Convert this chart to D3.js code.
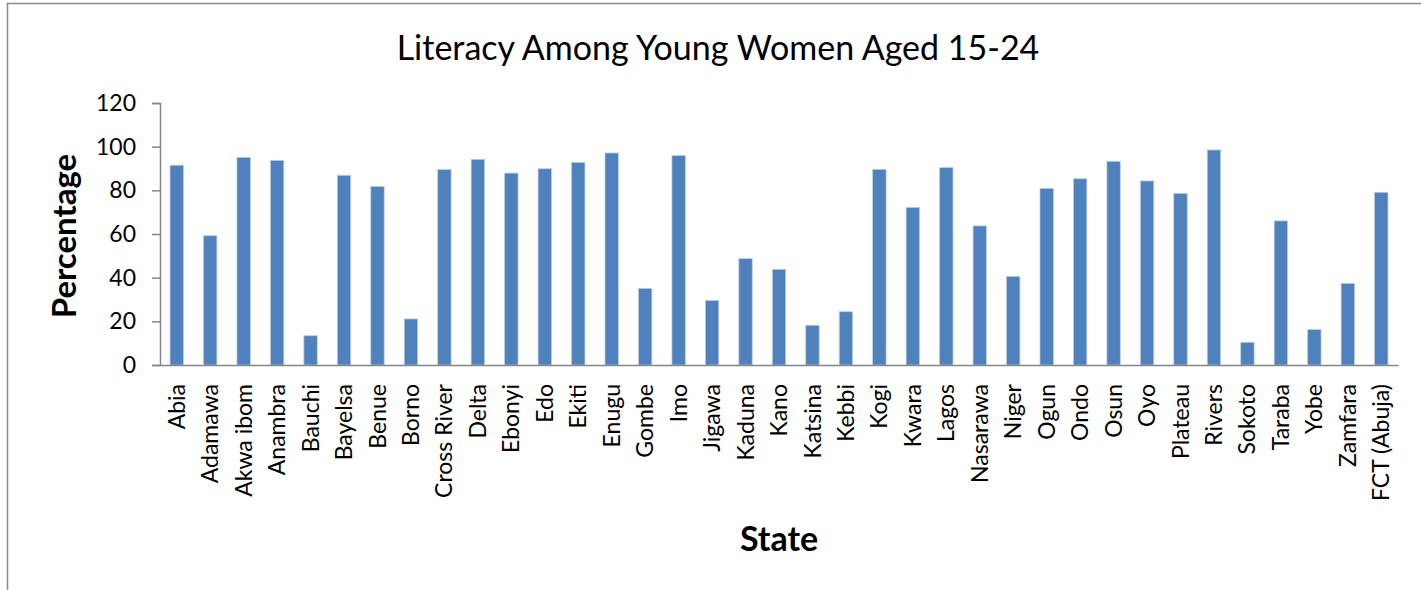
<!DOCTYPE html>
<html lang="en">
  <head>
    <meta charset="utf-8">
    <script src="https://d3js.org/d3.v7.min.js"></script>
    <style>
      body { margin: 0; background: #fff; }
      text { font-family: Lato, "Open Sans", sans-serif; fill: #000; }
    </style>
  </head>
  <body>
    <div id="chart">
      <svg width="1421" height="590"></svg>
    </div>
    <script type="text/javascript">
      // Data
      var states = ["Abia", "Adamawa", "Akwa ibom", "Anambra", "Bauchi", "Bayelsa",
        "Benue", "Borno", "Cross River", "Delta", "Ebonyi", "Edo", "Ekiti", "Enugu",
        "Gombe", "Imo", "Jigawa", "Kaduna", "Kano", "Katsina", "Kebbi", "Kogi",
        "Kwara", "Lagos", "Nasarawa", "Niger", "Ogun", "Ondo", "Osun", "Oyo",
        "Plateau", "Rivers", "Sokoto", "Taraba", "Yobe", "Zamfara", "FCT (Abuja)"];
      var literacy = [91.5, 59.2, 95.1, 93.7, 13.4, 86.9, 81.8, 21.1, 89.5, 94.2,
        87.9, 89.9, 92.8, 97.1, 35.1, 95.9, 29.6, 48.7, 43.8, 18.2, 24.4, 89.6,
        72.2, 90.4, 63.7, 40.6, 80.9, 85.3, 93.3, 84.3, 78.6, 98.5, 10.4, 66.0,
        16.2, 37.4, 79.1];
      var yTicks = [0, 20, 40, 60, 80, 100, 120];

      var svg = d3.select("svg");
      var margin = {top: 103, left: 160, right: 23, bottom: 225};
      var width = +svg.attr("width"), height = +svg.attr("height");
      var innerWidth = width - margin.left - margin.right;
      var innerHeight = height - margin.top - margin.bottom;

      // Chart frame (only top and left edges fall inside the picture)
      svg.append("path")
        .attr("d", `M7.5,${height} V3.5 H${width}`)
        .attr("fill", "none")
        .attr("stroke", "#8c8c8c")
        .attr("stroke-width", 1.5);

      // Title
      svg.append("text")
        .attr("x", 718).attr("y", 60)
        .attr("text-anchor", "middle")
        .style("font-size", "34px")
        .text("Literacy Among Young Women Aged 15-24");

      var g = svg.append("g")
        .attr("transform", `translate(${margin.left},${margin.top})`);

      // Scales
      var xScale = d3.scaleBand()
        .domain(states)
        .range([0, innerWidth])
        .paddingInner(0.6)
        .paddingOuter(0.3);
      var yScale = d3.scaleLinear()
        .domain([0, 120])
        .range([innerHeight, 0]);

      // Bars
      g.selectAll("rect.bar")
        .data(states)
        .enter().append("rect")
        .attr("class", "bar")
        .attr("x", function(d) { return xScale(d); })
        .attr("y", function(d, i) { return yScale(literacy[i]); })
        .attr("width", xScale.bandwidth())
        .attr("height", function(d, i) { return innerHeight - yScale(literacy[i]); })
        .style("fill", "#4f81bd")
        .style("stroke", "#b9cde5")
        .style("stroke-width", 0.75);

      // Y axis
      var yAxis = d3.axisLeft(yScale)
        .tickValues(yTicks)
        .tickSize(8)
        .tickPadding(16);
      var yG = g.append("g").call(yAxis);
      yG.select(".domain").attr("stroke", "#868686").attr("stroke-width", 1.5);
      yG.selectAll(".tick line").attr("stroke", "#868686").attr("stroke-width", 1.5);
      yG.selectAll(".tick text")
        .style("font-size", "23px")
        .attr("fill", "#000");

      // X axis: labels rotated, reading upward
      var xAxis = d3.axisBottom(xScale).tickSize(0).tickPadding(0);
      var xG = g.append("g")
        .attr("transform", `translate(0,${innerHeight})`)
        .call(xAxis);
      xG.select(".domain").attr("stroke", "#868686").attr("stroke-width", 1.5);
      xG.selectAll(".tick text")
        .style("font-size", "23px")
        .attr("fill", "#000")
        .attr("text-anchor", "end")
        .attr("x", 0)
        .attr("y", 0)
        .attr("dy", "0.35em")
        .attr("transform", "translate(0,19) rotate(-90)");

      // Axis titles
      svg.append("text")
        .attr("transform", "translate(76,236) rotate(-90)")
        .attr("text-anchor", "middle")
        .style("font-size", "33px")
        .style("font-weight", "bold")
        .text("Percentage");
      svg.append("text")
        .attr("x", 779).attr("y", 551)
        .attr("text-anchor", "middle")
        .style("font-size", "34px")
        .style("font-weight", "bold")
        .text("State");
    </script>
  </body>
</html>
